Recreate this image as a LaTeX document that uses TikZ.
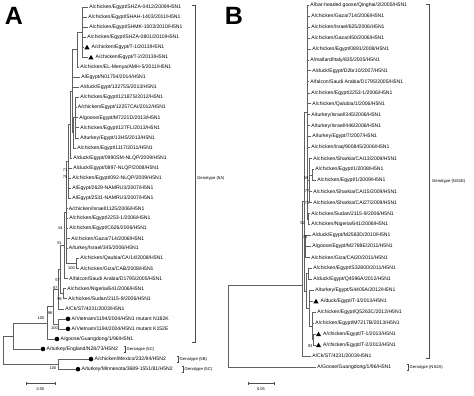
\documentclass[tikz,border=0pt]{standalone}
\usepackage{fontspec}
\setmainfont{Liberation Sans}
\usetikzlibrary{shapes.geometric}
\newcommand\leafN[4]{\coordinate (#1) at (#2,#3); \node[lf] (#1t) at (#2+1.2,#3) {#4};}
\newcommand\leafT[4]{\coordinate (#1) at (#2,#3); \node[tri] (#1m) at (#2+3,#3+0.6) {}; \node[lf] (#1t) at (#2+7.5,#3) {#4};}
\newcommand\leafD[4]{\coordinate (#1) at (#2,#3); \node[dotm] (#1m) at (#2+2.5,#3) {}; \node[lf] (#1t) at (#2+6,#3) {#4};}
\newcommand\mkclade[2]{\foreach \c in {#2}{\draw[br] (#1) -- (#1 |- \c) -- (\c);}}
\begin{document}
\begin{tikzpicture}[x=1pt,y=-1pt,
  br/.style={draw=black!62, line width=0.6pt, line cap=rect},
  brk/.style={draw=black!70, line width=0.5pt},
  lf/.style={anchor=west, inner sep=0pt, font=\fontsize{5.1}{6}\selectfont},
  bs/.style={inner sep=0pt, font=\fontsize{4}{5}\selectfont},
  gt/.style={anchor=west, inner sep=0pt, font=\fontsize{4.2}{5}\selectfont},
  tri/.style={regular polygon, regular polygon sides=3, fill=black, inner sep=0pt, minimum size=6pt},
  dotm/.style={circle, fill=black, inner sep=0pt, minimum size=4.6pt},
  pl/.style={inner sep=0pt, font=\fontsize{25}{28}\selectfont\bfseries}]
\useasboundingbox (0,0) rectangle (474,396);

% ---------------- Panel A ----------------
\node[pl] (labA) at (14,16) {A};

\leafN{A1}{88}{7.0}{A/chicken/Egypt/SHZA-0412/2009/H5N1}
\leafN{A2}{87}{17.1}{A/chicken/Egypt/SHAH-1403/2011/H5N1}
\leafN{A3}{88}{27.1}{A/chicken/Egypt/SHMK-1003/2010/H5N1}
\leafN{A4}{86}{37.2}{A/chicken/Egypt/SHZA-0801/2010/H5N1}
\leafT{A5}{84}{47.2}{A/chicken/Egypt/T-1/2013/H5N1}
\leafT{A6}{88}{57.3}{A/chicken/Egypt/T-2/2013/H5N1}
\leafN{A7}{79}{67.4}{A/chicken/EL-Menya/AMH-5/2011/H5N1}
\leafN{A8}{80}{77.4}{A/Egypt/N01754/2014/H5N1}
\leafN{A9}{79}{87.5}{A/duck/Egypt/13275S/2013/H5N1}
\leafN{A10}{79}{97.5}{A/chicken/Egypt/12187S/2012/H5N1}
\leafN{A11}{76.5}{107.6}{A/chicken/Egypt/12257CAI/2012/H5N1}
\leafN{A12}{78}{117.7}{A/goose/Egypt/M7221D/2013/H5N1}
\leafN{A13}{79}{127.7}{A/chicken/Egypt/127FL/2013/H5N1}
\leafN{A14}{79}{137.8}{A/turkey/Egypt/13HS/2013/H5N1}
\leafN{A15}{76}{147.8}{A/chicken/Egypt/1117/2011/H5N1}
\leafN{A16}{72}{157.9}{A/duck/Egypt/0990SM-NLQP/2009/H5N1}
\leafN{A17}{72}{168.0}{A/duck/Egypt/0897-NLQP/2008/H5N1}
\leafN{A18}{71}{178.0}{A/chicken/Egypt/092-NLQP/2009/H5N1}
\leafN{A19}{71}{188.1}{A/Egypt/2629-NAMRU3/2007/H5N1}
\leafN{A20}{71}{198.1}{A/Egypt/2531-NAMRU3/2007/H5N1}
\leafN{A21}{67.5}{208.2}{A/chicken/Israel/1125/2006/H5N1}
\leafN{A22}{68}{218.3}{A/chicken/Egypt/2253-1/2006/H5N1}
\leafN{A23}{68}{228.3}{A/chicken/Egypt/C626/2006/H5N1}
\leafN{A24}{70}{238.4}{A/chicken/Gaza/714/2006/H5N1}
\leafN{A25}{67.5}{248.4}{A/turkey/Israel/345/2006/H5N1}
\leafN{A26}{79}{258.5}{A/chicken/Qaubia/CA/14/2008/H5N1}
\leafN{A27}{79}{268.6}{A/chicken/Giza/CAB/2008/H5N1}
\leafN{A28}{68}{278.6}{A/falcon/Saudi Arabia/D1795/2005/H5N1}
\leafN{A29}{66}{288.7}{A/chicken/Nigeria/641/2006/H5N1}
\leafN{A30}{67}{298.7}{A/chicken/Sudan/2115-9/2006/H5N1}
\leafN{A31}{64}{308.8}{A/Ck/ST/4231/2003/H5N1}
\leafD{A32}{65.5}{318.9}{A/Vietnam/1194/2004/H5N1 mutant N182K}
\leafD{A33}{65.5}{328.9}{A/Vietnam/1194/2004/H5N1 mutant K152E}
\leafD{A34}{54.5}{339.0}{A/goose/Guangdong/1/96/H5N1}
\leafD{A35}{40.5}{349.0}{A/turkey/England/N28/73/H5N2}
\leafD{A36}{88.5}{359.1}{A/chicken/Mexico/232/94/H5N2}
\leafD{A37}{75.5}{369.2}{A/turkey/Minnesota/3689-1551/81/H5N2}

\coordinate (a1) at (82,32.15);
\coordinate (a2) at (77,49.8);
\coordinate (a3) at (75,117.65);
\coordinate (a4) at (73,132.7);
\coordinate (a5) at (72,91.25);
\coordinate (a6) at (70,124.6);
\coordinate (a7) at (68.5,161.35);
\coordinate (a9) at (76.5,263.55);
\coordinate (a8) at (66,212.45);
\coordinate (a10) at (64,245.5);
\coordinate (a12) at (63,293.7);
\coordinate (a11) at (60,269.6);
\coordinate (a13) at (58,289.2);
\coordinate (a14) at (58,323.9);
\coordinate (a15) at (53,306.55);
\coordinate (a16) at (47,322.8);
\coordinate (a17) at (13,335.9);
\coordinate (a18) at (58,364.15);
\coordinate (rA) at (3,350);

\mkclade{a1}{A1,A2,A3,A4,A5,A6}
\mkclade{a2}{a1,A7}
\mkclade{a3}{A10,A11,A12,A13,A14}
\mkclade{a4}{a3,A15}
\mkclade{a5}{a2,A8,A9,a4}
\mkclade{a6}{a5,A16}
\mkclade{a7}{a6,A17,A18,A19,A20}
\mkclade{a9}{A26,A27}
\mkclade{a8}{a7,A21,A22,A23,A24,A25,a9}
\mkclade{a10}{a8,A28}
\mkclade{a12}{A29,A30}
\mkclade{a11}{a10,a12}
\mkclade{a13}{a11,A31}
\mkclade{a14}{A32,A33}
\mkclade{a15}{a13,a14}
\mkclade{a16}{a15,A34}
\mkclade{a17}{a16,A35}
\mkclade{a18}{A36,A37}
\mkclade{rA}{a17,a18}

\node[bs] (bA1) at (65,170) {71};
\node[bs] (bA2) at (65,177.5) {75};
\node[bs] (bA3) at (60.5,228) {54};
\node[bs] (bA4) at (59.5,243) {51};
\node[bs] (bA5) at (71.5,268) {100};
\node[bs] (bA6) at (57.5,280) {57};
\node[bs] (bA7) at (55,288) {97};
\node[bs] (bA8) at (59.5,299) {99};
\node[bs] (bA9) at (50,313) {98};
\node[bs] (bA10) at (41,318) {100};
\node[bs] (bA11) at (54.5,328) {100};
\node[bs] (bA12) at (53,368) {100};

% genotype brackets A
\draw[brk] (192,5) -- (195,5) -- (195,342) -- (192,342);
\node[gt] (gA1) at (197,178) {Genotype (5A)};
\draw[brk] (123.5,346) -- (125,346) -- (125,352) -- (123.5,352);
\node[gt] (gA2) at (126.5,349) {Genotype (5C)};
\draw[brk] (176.5,356.1) -- (178,356.1) -- (178,362.1) -- (176.5,362.1);
\node[gt] (gA3) at (179.5,359.1) {Genotype (5B)};
\draw[brk] (181.5,366.2) -- (183,366.2) -- (183,372.2) -- (181.5,372.2);
\node[gt] (gA4) at (184.5,369.2) {Genotype (5C)};

% scale bar A
\coordinate (sA1) at (26,383);
\coordinate (sA2) at (55,383);
\draw[brk] (sA1) -- (sA2);
\draw[brk] (sA1) ++(0,-1.5) -- ++(0,3);
\draw[brk] (sA2) ++(0,-1.5) -- ++(0,3);
\node[bs] (sAl) at (40.5,389.5) {0.05};

% ---------------- Panel B ----------------
\node[pl] (labB) at (234,16) {B};

\leafN{B1}{309}{5}{A/bar-headed goose/Qinghai/3/2005/H5N1}
\leafN{B2}{310}{16}{A/chicken/Gaza/714/2006/H5N1}
\leafN{B3}{310}{26.9}{A/chicken/Israel/625/2006/H5N1}
\leafN{B4}{310}{37.9}{A/chicken/Gaza/450/2006/H5N1}
\leafN{B5}{311}{48.9}{A/chicken/Egypt/0891/2008/H5N1}
\leafN{B6}{309}{59.9}{A/mallard/Italy/835/2005/H5N1}
\leafN{B7}{311}{70.8}{A/duck/Egypt/D2br10/2007/H5N1}
\leafN{B8}{309}{81.8}{A/falcon/Saudi Arabia/D1795/2005/H5N1}
\leafN{B9}{310}{92.8}{A/chicken/Egypt/2253-1/2006/H5N1}
\leafN{B10}{311}{103.7}{A/chicken/Qalubia/1/2006/H5N1}
\leafN{B11}{310}{114.7}{A/turkey/Israel/345/2006/H5N1}
\leafN{B12}{310}{125.7}{A/turkey/Israel/446/2006/H5N1}
\leafN{B13}{311}{136.6}{A/turkey/Egypt/7/2007/H5N1}
\leafN{B14}{310}{147.6}{A/chicken/Iraq/900845/2006/H5N1}
\leafN{B15}{312}{158.6}{A/chicken/Sharkia/CAI13/2009/H5N1}
\leafN{B16}{314}{169.6}{A/chicken/Egypt/1/2008/H5N1}
\leafN{B17}{316}{180.5}{A/chicken/Egypt/1/2009/H5N1}
\leafN{B18}{312}{191.5}{A/chicken/Sharkia/CAI15/2009/H5N1}
\leafN{B19}{312}{202.5}{A/chicken/Sharkia/CAI27/2009/H5N1}
\leafN{B20}{310}{213.4}{A/chicken/Sudan/2115-9/2006/H5N1}
\leafN{B21}{310}{224.4}{A/chicken/Nigeria/641/2006/H5N1}
\leafN{B22}{311}{235.4}{A/duck/Egypt/M2583D/2010/H5N1}
\leafN{B23}{311}{246.3}{A/goose/Egypt/M2788E/2011/H5N1}
\leafN{B24}{310}{257.3}{A/chicken/Giza/CAI20/2011/H5N1}
\leafN{B25}{312}{268.3}{A/chicken/Egypt/S32800/2011/H5N1}
\leafN{B26}{312}{279.2}{A/duck/Egypt/Q4596A/2012/H5N1}
\leafN{B27}{314}{290.2}{A/turkey/Egypt/S4405A/2012/H5N1}
\leafT{B28}{313}{301.2}{A/duck/Egypt/T-3/2013/H5N1}
\leafN{B29}{316}{312.2}{A/chicken/Egypt/Q5263C/2012/H5N1}
\leafN{B30}{314}{323.1}{A/chicken/Egypt/M7217B/2013/H5N1}
\leafT{B31}{315.5}{334.1}{A/chicken/Egypt/T-1/2013/H5N1}
\leafT{B32}{315.5}{345.1}{A/chicken/Egypt/T-2/2013/H5N1}
\leafN{B33}{311}{356}{A/Ck/ST/4231/2003/H5N1}
\leafN{B34}{316}{367}{A/Goose/Guangdong/1/96/H5N1}

\coordinate (b3) at (312.5,175.05);
\coordinate (b2) at (309,180.55);
\coordinate (b7) at (308,218.9);
\coordinate (b1) at (307,111.95);
\coordinate (b8) at (305,246.35);
\coordinate (b9) at (308,273.75);
\coordinate (b12) at (313.5,339.6);
\coordinate (b11) at (312,325.9);
\coordinate (b10) at (309,308.05);
\coordinate (b13) at (306,290.9);
\coordinate (c1) at (304,201.4);
\coordinate (n0) at (302,285);
\coordinate (rB) at (228,326);

\mkclade{b3}{B16,B17}
\mkclade{b2}{B15,b3,B18,B19}
\mkclade{b7}{B20,B21}
\mkclade{b1}{B1,B2,B3,B4,B5,B6,B7,B8,B9,B10,B11,B12,B13,B14,b2,b7}
\mkclade{b8}{B22,B23,B24}
\mkclade{b9}{B25,B26}
\mkclade{b12}{B31,B32}
\mkclade{b11}{B29,B30,b12}
\mkclade{b10}{B27,B28,b11}
\mkclade{b13}{b9,b10}
\mkclade{c1}{b1,b8,b13}
\mkclade{n0}{c1,B33}
\mkclade{rB}{n0,B34}

\node[bs] (bB1) at (306,178) {59};
\node[bs] (bB2) at (307,191) {77};
\node[bs] (bB3) at (307,203) {73};
\node[bs] (bB4) at (302.5,223) {52};
\node[bs] (bB5) at (305,237) {75};
\node[bs] (bB6) at (310,346) {93};

% genotype brackets B
\draw[brk] (426,4) -- (429,4) -- (429,358) -- (426,358);
\node[gt] (gB1) at (432,181) {Genotype (NS1E)};
\draw[brk] (406.5,364) -- (408,364) -- (408,370) -- (406.5,370);
\node[gt] (gB2) at (409.5,367) {Genotype (NS2A)};

% scale bar B
\coordinate (sB1) at (248,383);
\coordinate (sB2) at (274,383);
\draw[brk] (sB1) -- (sB2);
\draw[brk] (sB1) ++(0,-1.5) -- ++(0,3);
\draw[brk] (sB2) ++(0,-1.5) -- ++(0,3);
\node[bs] (sBl) at (261,389.5) {0.05};
\end{tikzpicture}
\end{document}
